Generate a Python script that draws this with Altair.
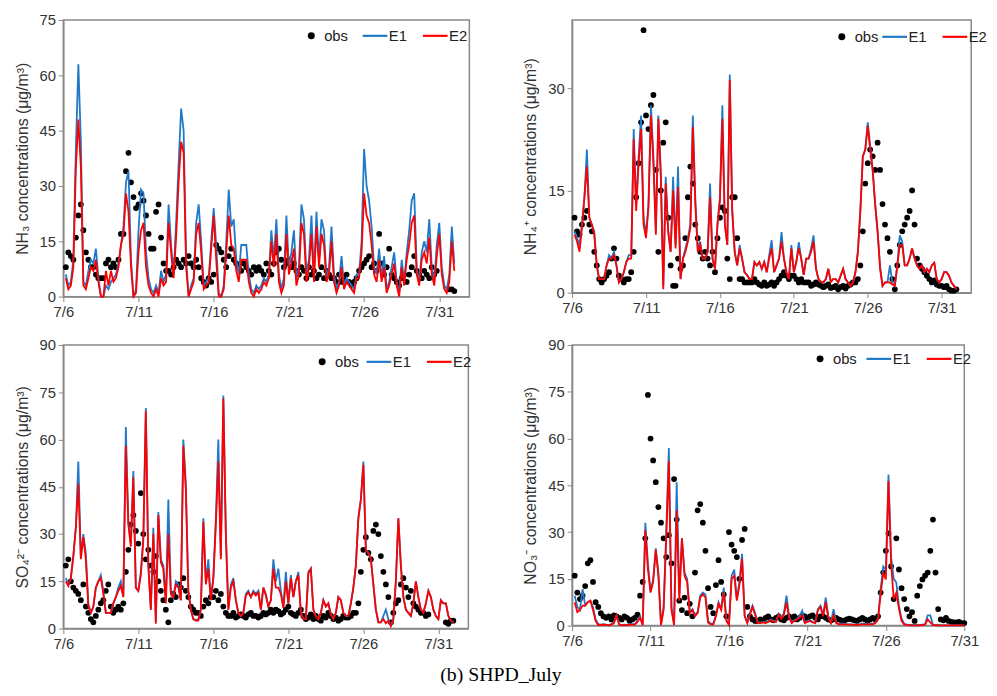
import altair as alt
import pandas as pd

# ---------------- data (4-hourly readings, one list per day starting 7/6) --------------
# day 0 starts at 04:00, later days at 00:00; step 4 h
NH3_OBS = [
    [8, 12, 11, 10, 16],
    [22, 25, 18, 12, 10, 8], [8, 6, 5, 5, 5, 9], [10, 8, 9, 8, 10, 17],
    [17, 34, 39, 31, 27, 24], [25, 28, 26, 22, 17, 13], [13, 23, 25, 16, 9, 7],
    [7, 6, 8, 10, 9, 8], [10, 9, 11, 9, 8, 10], [8, 5, 4, 3, 5, 4],
    [6, 14, 13, 12, 10, 8], [11, 13, 10, 9, 8, 7], [9, 8, 7, 6, 8, 7],
    [8, 7, 6, 9, 7, 6], [9, 12, 13, 10, 8, 9], [10, 8, 9, 7, 6, 8],
    [7, 5, 8, 6, 7, 5], [6, 8, 5, 7, 6, 5], [5, 4, 6, 4, 5, 6],
    [4, 3, 4, 5, 7, 8], [9, 10, 11, 8, 9, 7], [17, 9, 6, 8, 13, 6],
    [5, 4, 3, 5, 6, 4], [6, 8, 11, 7, 6, 5], [7, 6, 5, 8, 6, 7],
    [None, None, None, None, 2, 2], [1.5],
]
NH3_E1 = [
    [6, 3, 4, 10, 40],
    [63, 42, 4, 3, 7, 10], [9, 13, 5, 0, 0, 3], [2, 4, 5, 6, 9, 14],
    [19, 31, 34, 10, 0, 2], [18, 29, 28, 12, 5, 2], [1, 3, 1, 7, 4, 6],
    [25, 14, 6, 20, 36, 51], [45, 10, 0, 3, 5, 20], [25, 15, 3, 4, 5, 15],
    [24, 14, 1, 0, 3, 15], [29, 19, 21, 10, 6, 14], [14, 14, 6, 2, 1, 3],
    [2, 3, 5, 4, 6, 18], [10, 21, 6, 2, 5, 22], [8, 12, 18, 5, 8, 25],
    [21, 6, 10, 22, 6, 23], [10, 21, 18, 5, 8, 19], [6, 2, 4, 11, 3, 5],
    [4, 3, 2, 6, 6, 15], [40, 30, 26, 19, 8, 6], [13, 5, 11, 2, 4, 8],
    [12, 4, 1, 10, 4, 12], [18, 26, 28, 8, 4, 12], [15, 12, 21, 8, 4, 14],
    [20, 8, 3, 2, 6, 19], [9],
]
NH3_E2 = [
    [5, 2, 3, 8, 35],
    [48, 35, 3, 2, 5, 8], [7, 10, 4, 0, 0, 7], [3, 7, 4, 5, 8, 14],
    [17, 28, 23, 8, 0, 1], [12, 18, 20, 8, 3, 1], [0, 2, 0, 5, 3, 4],
    [20, 12, 5, 16, 31, 42], [39, 8, 0, 2, 4, 17], [20, 12, 2, 3, 4, 13],
    [22, 10, 0, 0, 2, 12], [22, 14, 13, 7, 4, 10], [10, 10, 4, 1, 0, 2],
    [1, 2, 4, 3, 5, 15], [8, 17, 4, 1, 3, 17], [6, 9, 13, 3, 6, 20],
    [17, 4, 8, 17, 4, 19], [8, 17, 14, 4, 6, 15], [4, 1, 3, 8, 2, 4],
    [3, 2, 1, 5, 5, 12], [28, 22, 20, 14, 6, 4], [10, 4, 8, 1, 3, 6],
    [9, 3, 0, 8, 3, 10], [14, 20, 22, 6, 3, 10], [12, 9, 16, 6, 3, 11],
    [17, 6, 2, 1, 4, 15], [7],
]

NH4_OBS = [
    [11, 9, 8.5, 10, 11],
    [12, 10, 9, 6, 4, 2], [1.5, 2, 2.5, 3, 5, 6.5], [5, 2.5, 2, 1.5, 2, 2],
    [3, 6, 14, 19, 25, 38.5], [26, 24, 27.5, 29, 18, 6], [15, 22, 25, 11, 4, 1],
    [1, 5, 3.5, 4, 8, 14], [18.5, 16, 10, 8, 6, 5], [6, 5, 4, 6, 3, 8],
    [11, 12.5, 12, 5, 2, 14], [14, 8, 2, 2, 1.5, 1.5], [1.5, 1.5, 2, 1.5, 1.2, 1],
    [1.5, 1, 1.2, 1.5, 1, 1.5], [2, 2.5, 3, 2.5, 2, 2.5], [2.5, 2, 1.5, 2, 1.5, 1.5],
    [1.5, 1, 1.2, 1.5, 1.2, 1], [0.8, 1, 1.2, 0.7, 0.8, 1], [0.5, 0.8, 1, 0.6, 1, 1.2],
    [1.5, 1.5, 2, 4, 9, 16], [19, 21, 20, 18, 22, 18], [13, 10, 8, 6, 2, 0.5],
    [4, 7, 9, 10, 11, 12], [15, 10, 5, 4, 3.5, 3], [2.5, 2, 1.5, 1.8, 1.2, 1],
    [1, 0.8, 1, 0.5, 0.3, 0.3], [0.5],
]
NH4_E1 = [
    [9, 8, 7, 10, 14],
    [21, 11, 10, 9, 4, 2], [2, 2, 4, 5.5, 5, 6], [4, 1.5, 2, 3, 4.5, 5.5],
    [5.5, 24, 13, 20, 26, 11], [8.5, 13, 27.5, 20, 9, 26], [18, 1, 17, 9, 6, 17],
    [7, 18.5, 2, 5, 6.5, 8], [10, 26, 14, 6.5, 7.5, 5], [5, 6, 16, 5, 3.5, 10],
    [14, 27.5, 10, 7, 32, 12], [6, 4, 7, 5, 3, 2.6], [2, 2, 4.5, 4, 4.5, 3.5],
    [4.5, 3, 5.5, 7.7, 3, 4], [5, 8.9, 5, 3, 2, 7], [3, 4.5, 7.4, 5, 2.6, 5],
    [5, 6.5, 8.4, 3.5, 2, 1.6], [1.5, 2, 3.5, 1.6, 2, 2], [1.5, 2.5, 3.5, 2, 1.5, 1],
    [1.5, 3, 6, 12, 20, 21], [25, 21.5, 18, 13, 9, 4], [1, 1.5, 1.5, 4, 1.5, 1],
    [4, 8.4, 7.5, 4, 4, 5], [6.5, 5, 4, 3.5, 4, 3], [3.5, 3, 4, 4.4, 2, 1.5],
    [2, 3, 3, 2.5, 1.5, 1], [0.5],
]
NH4_E2 = [
    [8.5, 7.5, 6, 9.5, 14],
    [18.5, 11, 10, 8.5, 4, 2], [2, 2, 4, 5, 5, 5.5], [4, 1.5, 2, 3, 4.5, 5],
    [5, 22.5, 12, 19, 24, 10], [8, 12.5, 26, 19, 8.5, 25.5], [17, 0.5, 16, 9, 6, 15],
    [6.5, 15.5, 2, 5, 6, 7.5], [9.5, 24.3, 13, 6, 7, 5], [5, 6, 14, 5, 3.5, 10],
    [13.5, 25.5, 10, 7, 31.2, 12], [6, 4, 6.5, 5, 3, 2.6], [2, 2, 4.5, 4, 4.5, 3.5],
    [4.5, 3, 5, 6.5, 3, 4], [5, 7.5, 5, 3, 2, 6.5], [3, 4.5, 6.5, 5, 2.6, 5],
    [5, 6, 7.5, 3.5, 2, 1.6], [1.5, 2, 3.5, 1.6, 2, 2], [1.5, 2.5, 3.5, 2, 1.5, 1],
    [1.5, 3, 6, 12, 20, 21], [24.5, 21, 18, 13, 9, 3.5], [1, 1.5, 1.5, 1.5, 1.2, 1],
    [4, 7, 7, 4, 4, 5], [6.5, 5, 4, 3.5, 4, 3], [3.5, 3, 4, 4.4, 2, 1.5],
    [2, 3, 3, 2.5, 1.5, 1], [0.5],
]

SO4_OBS = [
    [20, 22, 15, 13, 12],
    [11, 9, 14, 7, 5, 3], [2, 4, 6, 8, 9, 12], [14, 7, 5, 6, 7, 6],
    [8, 18, 25, 33, 36, 31], [27, 43, 30, 22, 25, 20], [18, 23, 15, 12, 9, 6],
    [2, 9, 11, 10, 14, 13], [16, 12, 10, 7, 6, 5], [5, 4, 7, 9, 8, 10],
    [10, 12, 9, 11, 7, 5], [4, 4, 5, 3.5, 4, 4.5], [4, 3.5, 4.5, 5, 4, 4],
    [3.5, 4, 5, 4.5, 5, 6], [5, 6, 5.5, 4.5, 5, 6], [7, 5, 4.5, 4, 5, 6],
    [4, 3, 3.5, 4.5, 3, 4], [3, 2.5, 4, 3.5, 5, 4], [3, 3.5, 2.5, 3, 4, 3.5],
    [3.5, 4, 5, 5, 8, 18], [25, 29, 24, 22, 31, 33], [30, 23, 18, 14, 10, 2],
    [5, 8, 9, 14, 16, 13], [10, 12, 8, 7, 6, 5], [5, 4, 4.5, None, None, None],
    [None, None, None, 2, 1.5, 2.5], [2.5],
]
SO4_E1 = [
    [16, 14, 16, 23, 32],
    [53, 23, 30, 24, 8, 5], [7, 13, 15, 17, 12, 5], [5, 5, 8, 10, 13, 15],
    [10, 64, 34, 27, 50, 13], [12, 18, 29, 70, 20, 6], [32, 2, 37, 22, 20, 9],
    [41, 12, 10, 15, 14, 9], [60, 46, 12, 6, 3, 2.7], [3, 6, 35, 15, 22, 9],
    [16, 35, 60, 23, 74, 30], [6, 14, 16, 9, 5, 4], [5, 11, 12, 10, 12, 11],
    [12, 6, 13, 11, 7, 9], [22, 15, 19, 12, 7, 18], [8, 17, 10, 15, 18, 5],
    [3, 3, 18, 19, 6, 4], [3, 5, 9, 7, 8, 4.5], [3, 5, 10, 9, 5, 4],
    [4, 8, 13, 20, 35, 41], [53, 25, 24, 22, 14, 6], [2, 2, 4, 6, 3, 1],
    [3, 15, 35, 20, 10, 6], [5, 4, 8, 15, 10, 6], [5, 8, 12, 10, 6, 4],
    [3, 9, 8, 8, 4, 2.5], [2],
]
SO4_E2 = [
    [15, 13.5, 16, 23, 32],
    [46, 22, 29, 22, 7, 5], [7, 13, 15, 16, 11, 5], [5, 5, 8, 10, 12, 13.5],
    [10, 58, 33, 26, 48, 13], [12, 17, 28, 69, 20, 6], [30, 1.5, 36, 21, 19, 8],
    [30, 11, 10, 14, 13, 9], [58, 44, 12, 6, 3, 2.5], [2.5, 6, 34, 14, 19, 9],
    [16, 33, 53, 22, 73, 30], [6, 13, 15, 9, 5, 4], [5, 10.5, 11.5, 10, 11.5, 10.5],
    [11.5, 6, 13, 10.5, 7, 9], [19, 13, 13, 11, 6.5, 15], [8, 16, 10, 15, 17, 5],
    [3, 3, 17.5, 19, 6, 4], [3, 5, 9, 7, 8, 4.5], [3, 5, 10, 9, 5, 4],
    [4, 8, 13, 20, 35, 41], [52, 25, 24, 22, 14, 6], [2, 2, 3, 1.7, 2.5, 0.8],
    [3, 15, 35, 20, 10, 6], [5, 4, 8, 15, 10, 6], [5, 8, 12, 10, 6, 4],
    [3, 9, 8, 8, 4, 2.5], [2],
]

NO3_OBS = [
    [16, 10.6, 8.5, 9.6, 12.7],
    [20, 21, 14, 7.5, 6, 4], [3, 2.5, 3, 2, 3.3, 3], [2.5, 2, 3, 2.5, 1.5, 2],
    [2.5, 3.5, 9.6, 14, 28, 74], [60, 53, 46, 38, 33, 28], [22, 29, 20, 47, 34, 8],
    [5, 9, 4, 7, 3, 17], [37, 39, 33, 24, 12, 6], [4, 13, 21, 14, 10, 3],
    [30, 26, 24, 22, 15, 27.5], [31, 6, 3, 2, 1.5, 1.5], [2, 1.7, 2.5, 3, 2, 1.7],
    [2.5, 3, 2, 1.7, 2.5, 3], [2.5, 3, 2, 2.5, 3.3, 3], [2, 3, 3.3, 2.5, 2, 3],
    [3, 2.5, 2, 1.7, 2, 2.5], [2, 1.7, 1.5, 2, 2.2, 2], [1.7, 1.5, 2, 2.5, 2, 1.5],
    [2, 2.5, 2, 3, 10.6, 17], [24, 29.6, 19, 8.5, 28, 18], [12, 8.5, 5.3, 3, 4.3, 1.5],
    [9.6, 12.7, 14.8, 16, 17, 24], [34, 17, 5.3, 2, 1.7, 2.5], [1.5, 1.2, 1, 1, 1.2, 0.8],
    [0.8],
]
NO3_E1 = [
    [9.6, 6, 5, 11.7, 6.5],
    [7.5, 8, 6, 2, 0.5, 0.3], [0.5, 0.3, 0.2, 0.5, 1, 3.3], [0.5, 0.2, 0.3, 0.2, 0.5, 0.5],
    [0.5, 1.5, 3, 0.3, 33, 20], [11, 14.8, 24.8, 17, 0.5, 6], [30, 57, 6, 0.5, 46, 10],
    [28, 17, 15, 4.3, 5.3, 3.5], [4.3, 9.6, 10.6, 10, 1.5, 0.6], [0.6, 3.3, 7.5, 5.3, 12.2, 2],
    [0.3, 16, 18, 8.5, 14, 23], [3.3, 1, 4, 6.4, 4, 1], [1, 1.2, 1, 1.5, 2, 1.5],
    [1.5, 3.8, 2.5, 4, 9.6, 3], [1, 1.7, 2.2, 3, 4.8, 1], [1.5, 1.7, 1.2, 1, 5.3, 6.4],
    [3.3, 9, 3, 1, 5.3, 1], [0.6, 0.6, 0.6, 0.5, 0.4, 0.4], [0.3, 0.3, 0.4, 0.6, 0.6, 0.6],
    [0.6, 0.6, 1, 2.2, 11.7, 19], [18, 48.5, 22, 15, 13.8, 6.4], [2.2, 0.6, 0.3, 0.2, 0.2, 0.2],
    [0.2, 0.2, 0.3, 0.5, 3.3, 3.3], [0.3, 0.2, 0.2, 0.1, 0.1, 0.1], [0.1, 0.1, 0.1, 0.1, 0.1, 0.1],
    [0.1],
]
NO3_E2 = [
    [7.5, 4.3, 5, 6.4, 6.4],
    [7.5, 8, 5, 1.5, 0.2, 0.2], [0.3, 0.2, 0.1, 0.3, 0.8, 3.3], [0.3, 0.1, 0.2, 0.1, 0.3, 0.3],
    [0.3, 1.2, 2.5, 0.1, 30.6, 18], [10.6, 14, 24.3, 16, 0.2, 5], [28, 52.7, 5, 0.2, 37, 8],
    [28, 16, 14, 4, 5, 3], [4, 9, 10, 9, 1, 0.4], [0.4, 3, 7, 5, 10.6, 1.5],
    [0.2, 15, 16, 8, 13, 21.4], [3, 0.8, 3.5, 6, 3.5, 0.8], [0.8, 1, 0.8, 1.2, 1.8, 1.2],
    [1.2, 3.5, 2.2, 3.5, 7.5, 2.5], [0.8, 1.5, 2, 2.5, 3.3, 0.8], [1.2, 1.5, 1, 0.8, 5, 6],
    [3, 7.5, 2.5, 0.8, 3.3, 0.8], [0.4, 0.4, 0.4, 0.3, 0.3, 0.3], [0.2, 0.2, 0.3, 0.4, 0.4, 0.4],
    [0.4, 0.4, 0.8, 2, 10, 17], [14.8, 46.4, 20, 8.5, 10.6, 5.5], [1.5, 0.4, 0.2, 0.1, 0.1, 0.1],
    [0.1, 0.1, 0.2, 0.3, 2, 1], [0.2, 0.1, 0.1, 0.1, 0.1, 0.1], [0.1, 0.1, 0.1, 0.1, 0.1, 0.1],
    [0.1],
]

X_TICKS = [0, 5, 10, 15, 20, 25]          # days after 7/6 -> 7/6 ... 7/31
SERIES = ["obs", "E1", "E2"]
COLORS = ["black", "#1f78c8", "#ff0000"]
FONT = "Liberation Sans"


def expand(days):
    t, v = [], []
    for d, vals in enumerate(days):
        start = 4 if d == 0 else 0
        for k, val in enumerate(vals):
            t.append(d + (start + 4 * k) / 24.0)
            v.append(val)
    return t, v


def panel(obs, e1, e2, title, ymax, yticks, xmax, w, h, dot, e_x):
    to, vo = expand(obs)
    df_o = pd.DataFrame({"t": to, "v": vo, "series": "obs"}).dropna()
    t1, v1 = expand(e1)
    t2, v2 = expand(e2)
    df_l = pd.DataFrame({"t": t1 + t2, "v": v1 + v2,
                         "series": ["E1"] * len(t1) + ["E2"] * len(t2)})
    x = alt.X("t:Q", scale=alt.Scale(domain=[0, xmax], nice=False, zero=False),
              axis=alt.Axis(values=X_TICKS, labelExpr="'7/' + (datum.value + 6)",
                            title=None, labelFlush=False, labelOverlap=False))
    y = alt.Y("v:Q", scale=alt.Scale(domain=[0, ymax], nice=False),
              axis=alt.Axis(values=yticks, title=title, labelFlush=False,
                            labelOverlap=False))
    pts = alt.Chart(df_o).mark_point(filled=True, size=34, opacity=1, color="black").encode(
        x=x, y=y,
        shape=alt.Shape("series:N", scale=alt.Scale(domain=["obs"], range=["circle"]),
                        legend=alt.Legend(title=None, orient="none", legendX=dot[0] - 7.5,
                                          legendY=dot[1] - 7.5, direction="horizontal",
                                          symbolSize=50, labelOffset=5.5,
                                          symbolFillColor="black", symbolStrokeColor="black")),
    )
    lines = alt.Chart(df_l).mark_line(strokeWidth=1.8).encode(
        x=x, y=y,
        color=alt.Color("series:N", scale=alt.Scale(domain=SERIES[1:], range=COLORS[1:]),
                        legend=alt.Legend(title=None, orient="none", legendX=e_x - 1.5,
                                          legendY=dot[1] - 14, direction="horizontal",
                                          symbolType="stroke", symbolSize=625,
                                          symbolStrokeWidth=2.2, labelOffset=0,
                                          columnPadding=11)),
    )
    return alt.layer(pts, lines).properties(width=w, height=h)


p1 = panel(NH3_OBS, NH3_E1, NH3_E2, "NH₃ concentrations (μg/m³)", 75,
           [0, 15, 30, 45, 60, 75], 27, 411, 280, (251, 16), 303)
p2 = panel(NH4_OBS, NH4_E1, NH4_E2, "NH₄⁺ concentrations (μg/m³)", 40,
           [0, 15, 30], 27, 404, 276, (273, 17), 314)
p3 = panel(SO4_OBS, SO4_E1, SO4_E2, "SO₄²⁻ concentrations (μg/m³)", 90,
           [0, 15, 30, 45, 60, 75, 90], 27, 410, 287, (262, 17), 307)
p4 = panel(NO3_OBS, NO3_E1, NO3_E2, "NO₃⁻ concentrations (μg/m³)", 90,
           [0, 15, 30, 45, 60, 75, 90], 25, 397, 284, (251, 14), 298)

chart = alt.concat(p1, p2, p3, p4, columns=2, spacing={"row": 17, "column": 49}).resolve_scale(
    color="independent", shape="independent", x="independent", y="independent"
).resolve_legend(color="independent", shape="independent").properties(
    title=alt.TitleParams("(b) SHPD_July", orient="bottom", anchor="middle",
                          font="Liberation Serif", fontSize=20, fontWeight="normal",
                          color="black", offset=13),
    padding={"left": 5, "top": 0, "right": 0, "bottom": 0},
    background="white",
).configure_axis(
    labelFont=FONT, titleFont=FONT, labelFontSize=15, titleFontSize=16,
    titleFontWeight="normal", labelColor="#333333", titleColor="#333333",
    domainColor="#888888", tickColor="#888888", grid=False, tickSize=5,
    labelPadding=3, titlePadding=9, domainWidth=1.5,
).configure_view(stroke="#888888", strokeWidth=1.5).configure_legend(
    labelFont=FONT, labelFontSize=15, labelColor="#222222", padding=0,
)

chart.save("out.html", embed_options={"renderer": "svg", "actions": False})
